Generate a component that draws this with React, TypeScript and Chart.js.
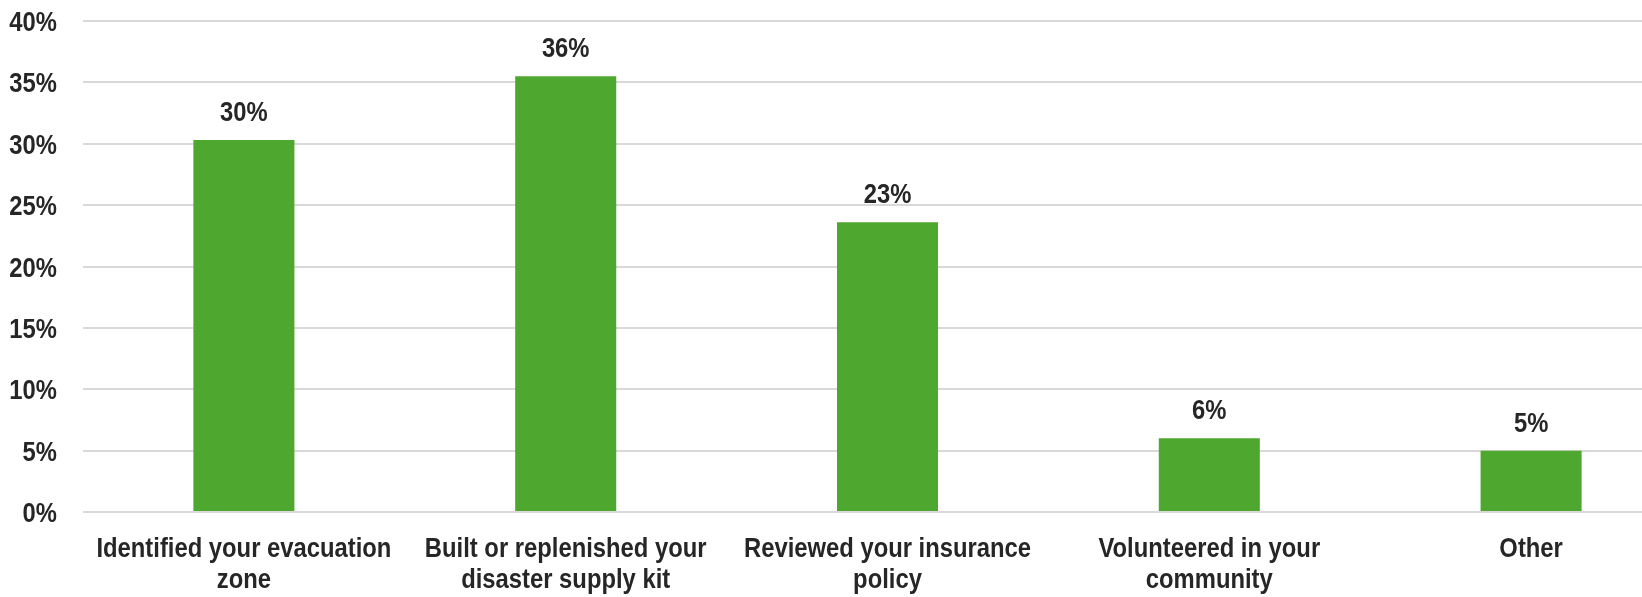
import React, { useEffect, useRef } from "react";
import { Chart, registerables } from "chart.js";

Chart.register(...registerables);

const categories: string[][] = [
  ["Identified your evacuation", "zone"],
  ["Built or replenished your", "disaster supply kit"],
  ["Reviewed your insurance", "policy"],
  ["Volunteered in your", "community"],
  ["Other"],
];
const values: number[] = [30.3, 35.5, 23.6, 6.0, 5.0];
const valueLabels: string[] = ["30%", "36%", "23%", "6%", "5%"];
const yTicks: number[] = [0, 5, 10, 15, 20, 25, 30, 35, 40];

const FONT = "'Liberation Sans', Arial, sans-serif";
const FONT_SIZE = 28;
const SQUEEZE = 0.85;
const TEXT = "#262626";

function drawNarrow(ctx: CanvasRenderingContext2D, text: string, x: number, y: number, align: CanvasTextAlign) {
  ctx.save();
  ctx.translate(x, y);
  ctx.scale(SQUEEZE, 1);
  ctx.textAlign = align;
  ctx.fillText(text, 0, 0);
  ctx.restore();
}

const textPlugin = {
  id: "narrowText",
  afterDatasetsDraw(chart: any) {
    const ctx: CanvasRenderingContext2D = chart.ctx;
    const meta = chart.getDatasetMeta(0);
    const xScale = chart.scales.x;
    const yScale = chart.scales.y;
    ctx.save();
    ctx.font = `bold ${FONT_SIZE}px ${FONT}`;
    ctx.fillStyle = TEXT;
    ctx.textBaseline = "alphabetic";
    // value labels above bars
    meta.data.forEach((bar: any, i: number) => {
      drawNarrow(ctx, valueLabels[i], bar.x, bar.y - 19, "center");
    });
    // y-axis tick labels
    yScale.ticks.forEach((t: any) => {
      const py = yScale.getPixelForValue(t.value);
      drawNarrow(ctx, `${t.value}%`, yScale.right - 26, py + 10, "right");
    });
    // x-axis category labels
    categories.forEach((lines, i) => {
      const px = xScale.getPixelForTick(i);
      lines.forEach((line, j) => {
        drawNarrow(ctx, line, px, xScale.top + 45 + j * 31, "center");
      });
    });
    ctx.restore();
  },
};

export default function App() {
  const ref = useRef<HTMLCanvasElement | null>(null);
  useEffect(() => {
    if (!ref.current) return;
    const chart = new Chart(ref.current, {
      type: "bar",
      data: {
        labels: categories,
        datasets: [
          {
            data: values,
            backgroundColor: "#4EA72E",
            borderWidth: 0,
            categoryPercentage: 1,
            barPercentage: 0.314,
          },
        ],
      },
      options: {
        responsive: false,
        animation: false,
        layout: { padding: { top: 21, right: 0, left: 0, bottom: 0 } },
        plugins: {
          legend: { display: false },
          tooltip: { enabled: false },
        },
        scales: {
          x: {
            grid: { display: false, drawTicks: false },
            border: { display: false },
            ticks: { display: false, autoSkip: false },
            afterFit(scale: any) {
              scale.height = 85;
            },
          },
          y: {
            min: 0,
            max: 40,
            afterBuildTicks(scale: any) {
              scale.ticks = yTicks.map((v) => ({ value: v }));
            },
            grid: { color: "#d9d9d9", lineWidth: 2, drawTicks: false },
            border: { display: false },
            ticks: { display: false },
            afterFit(scale: any) {
              scale.width = 83;
            },
          },
        },
      },
      plugins: [textPlugin],
    });
    return () => chart.destroy();
  }, []);
  return (
    <div
      style={{
        position: "absolute",
        left: 0,
        top: 0,
        width: 1642,
        height: 597,
        overflow: "hidden",
        background: "#fff",
      }}
    >
      <canvas ref={ref} width={1692} height={597} style={{ display: "block" }} />
    </div>
  );
}
